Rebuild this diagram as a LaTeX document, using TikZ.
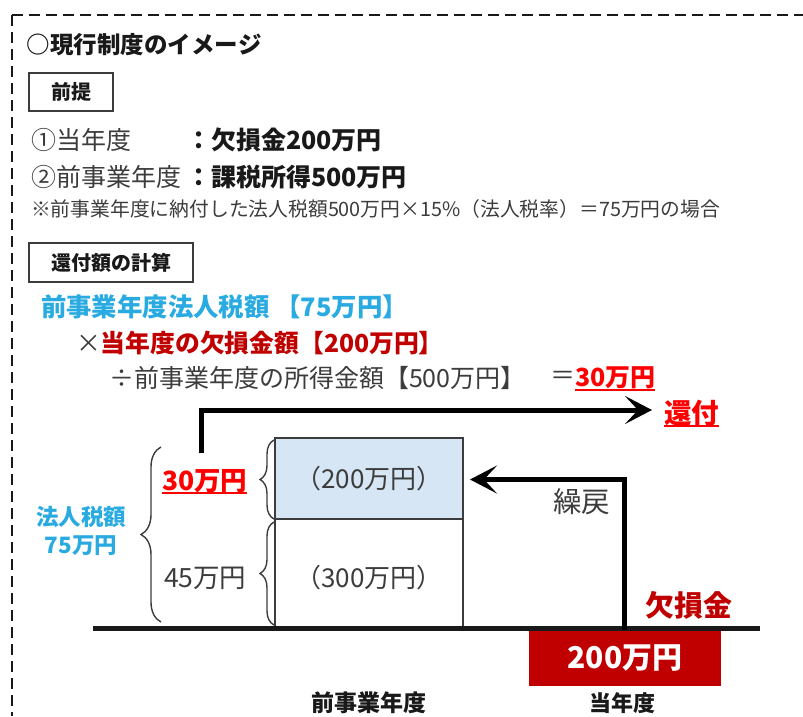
\documentclass[tikz,border=0pt]{standalone}
\usepackage{fontspec}
\setmainfont{Noto Sans CJK JP}
\usetikzlibrary{arrows.meta,decorations.pathreplacing}
\definecolor{tblue}{RGB}{41,170,225}
\definecolor{dred}{RGB}{192,0,0}
\definecolor{bred}{RGB}{255,0,0}
\definecolor{tgray}{RGB}{60,60,60}
\definecolor{tblack}{RGB}{25,25,25}
\definecolor{lblue}{RGB}{214,230,244}
\newcommand{\fsz}[1]{\fontsize{#1}{#1}\selectfont}
\begin{document}
\begin{tikzpicture}[x=1pt,y=-1pt,
  every node/.style={inner sep=0pt, outer sep=0pt},
  t/.style={anchor=west, text=tgray},
  hbox/.style={draw=tgray, line width=1.5pt, font=\fsz{20}\bfseries, text=tblack},
  bar/.style={draw=tgray, line width=1.5pt, minimum width=188pt, font=\fsz{26}, text=tgray},
  thickarrow/.style={line width=5pt, draw=black, -{Stealth[length=27pt,width=28pt,inset=13pt]}},
  brc/.style={draw=tgray, line width=1.4pt, decorate},
  redul/.style={draw=bred, line width=1.8pt},
  border/.style={draw=tblack, line width=2.2pt, dash pattern=on 11pt off 6pt}
  ]
\useasboundingbox (0,0) rectangle (803,716);

% dashed frame (top and left edges visible)
\coordinate (d0) at (12,15);
\coordinate (dl) at (12,716);
\coordinate (dt) at (803,15);
\draw[border] (d0) -- (dl);
\draw[border] (d0) -- (dt);

% title
\node[t, font=\fsz{23.5}\bfseries, text=tblack] (title) at (27,45) {○現行制度のイメージ};

% premise
\node[hbox, minimum width=84pt, minimum height=38pt] (zentei) at (71,92) {前提};
\node[t, font=\fsz{25}] (l1a) at (31,140) {①当年度};
\node[t, font=\fsz{25}\bfseries, text=tblack] (l1b) at (186,140) {：欠損金200万円};
\node[t, font=\fsz{25}] (l2a) at (31,177) {②前事業年度};
\node[t, font=\fsz{25}\bfseries, text=tblack] (l2b) at (186,177) {：課税所得500万円};
\node[t, font=\fsz{19.8}] (note) at (31,209) {※前事業年度に納付した法人税額500万円×15\%（法人税率）＝75万円の場合};

% calculation
\node[hbox, minimum width=164pt, minimum height=39pt] (calc) at (111,262.5) {還付額の計算};
\node[t, font=\fsz{25.4}\bfseries, text=tblue] (f1) at (41,307) {前事業年度法人税額 【75万円】};
\node[t, font=\fsz{24.8}\bfseries] (f2) at (76,343) {\textcolor{tgray}{\mdseries ×}\textcolor{dred}{当年度の欠損金額【200万円】}};
\node[t, font=\fsz{25}] (f3) at (109,378) {÷前事業年度の所得金額【500万円】};
\node[t, font=\fsz{25}] (eq) at (550,378) {＝};
\node[t, font=\fsz{25}\bfseries, text=bred] (r30) at (575,378) {30万円};
\draw[redul] ([yshift=-3pt]r30.base west) -- ([yshift=-3pt]r30.base east);

% bars
\node[bar, fill=lblue, minimum height=81pt] (up) at (369,478.5) {（200万円）};
\node[bar, fill=white, minimum height=108pt, anchor=north] (lo) at (up.south) {};
\node[font=\fsz{26}, text=tgray] (lotxt) at (369,578) {（300万円）};

% 還付 arrow
\coordinate (k1) at (201,453);
\coordinate (k2) at (652,410);
\draw[thickarrow] (k1) |- (k2);
\node[t, font=\fsz{27.5}\bfseries, text=bred] (kanpu) at (664,413) {還付};
\draw[redul] ([yshift=-3pt]kanpu.base west) -- ([yshift=-3pt]kanpu.base east);

% left labels and braces
\node[t, font=\fsz{26.5}\bfseries, text=bred] (s30) at (162,481) {30万円};
\draw[redul] ([yshift=-3pt]s30.base west) -- ([yshift=-3pt]s30.base east);
\node[t, font=\fsz{26.5}] (s45) at (164,578) {45万円};
\node[font=\fontsize{22.5}{28}\selectfont\bfseries, text=tblue, align=center] (houjin) at (81,531) {法人税額\\75万円};

\coordinate (bb1) at (161,622);
\coordinate (bb2) at (161,447);
\draw[brc, decoration={brace, amplitude=20pt}] (bb1) -- (bb2);
\coordinate (ub1) at (274,519);
\coordinate (ub2) at (274,440);
\draw[brc, decoration={brace, amplitude=14pt}] (ub1) -- (ub2);
\coordinate (lb1) at (274,625);
\coordinate (lb2) at (274,522);
\draw[brc, decoration={brace, amplitude=14pt}] (lb1) -- (lb2);

% current year loss
\node[fill=dred, minimum width=192pt, minimum height=56pt, font=\fsz{30}\bfseries, text=white] (loss) at (625,658) {200万円};
\node[t, font=\fsz{29}\bfseries, text=dred] (kesson) at (645,605) {欠損金};

% baseline
\coordinate (b1) at (93,628);
\coordinate (b2) at (760,628);
\draw[line width=5pt, draw=tblack] (b1) -- (b2);

% 繰戻 arrow
\coordinate (c1) at (624,630);
\coordinate (c2) at (470,479.5);
\draw[thickarrow] (c1) |- (c2);
\node[t, font=\fsz{28.5}] (kuri) at (553,502) {繰戻};

% year labels
\node[font=\fsz{23}\bfseries, text=tblack] (zen) at (369,703) {前事業年度};
\node[font=\fsz{22}\bfseries, text=tblack] (tou) at (622,703) {当年度};
\end{tikzpicture}
\end{document}
